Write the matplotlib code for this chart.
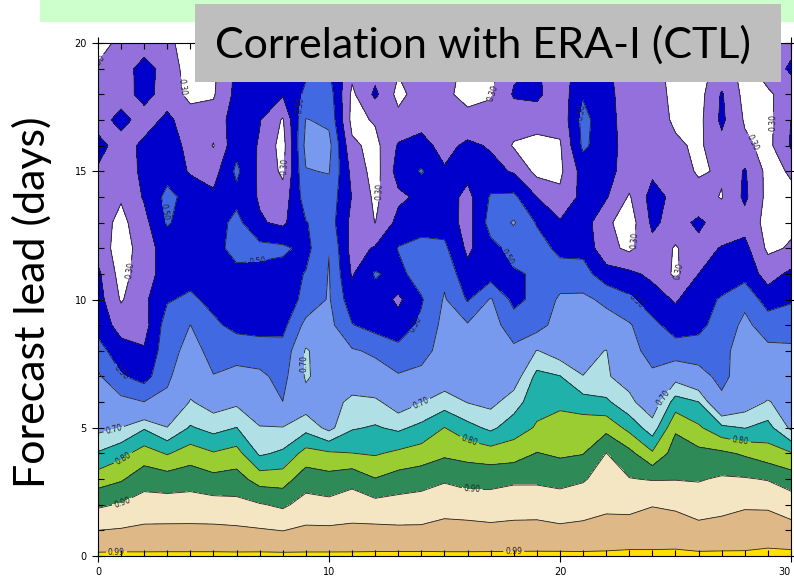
import numpy as np
import matplotlib
matplotlib.use('Agg')
import matplotlib.pyplot as plt
from matplotlib.patches import Rectangle

days = list(range(31))          # x axis
leads = list(range(21))         # forecast lead (days)

# correlation for each day (column), lead 0 .. 20
corr_by_day = [
    [0.997, 0.950, 0.892, 0.826, 0.755, 0.685, 0.655, 0.615, 0.54, 0.46, 0.44, 0.42, 0.36, 0.35, 0.35, 0.39, 0.43, 0.36, 0.34, 0.31, 0.27],
    [0.997, 0.954, 0.904, 0.844, 0.785, 0.701, 0.63, 0.51, 0.44, 0.36, 0.29, 0.26, 0.25, 0.27, 0.31, 0.35, 0.36, 0.43, 0.36, 0.35, 0.32],
    [0.996, 0.959, 0.922, 0.879, 0.823, 0.745, 0.602, 0.46, 0.41, 0.36, 0.38, 0.36, 0.35, 0.37, 0.41, 0.42, 0.42, 0.36, 0.43, 0.44, 0.35],
    [0.996, 0.960, 0.921, 0.873, 0.796, 0.702, 0.62, 0.585, 0.56, 0.55, 0.49, 0.44, 0.45, 0.51, 0.53, 0.46, 0.45, 0.42, 0.36, 0.36, 0.32],
    [0.996, 0.960, 0.922, 0.879, 0.825, 0.755, 0.705, 0.665, 0.635, 0.601, 0.52, 0.46, 0.45, 0.45, 0.46, 0.39, 0.37, 0.35, 0.27, 0.25, 0.26],
    [0.996, 0.960, 0.919, 0.865, 0.804, 0.733, 0.675, 0.603, 0.57, 0.52, 0.47, 0.47, 0.46, 0.45, 0.42, 0.36, 0.295, 0.34, 0.29, 0.28, 0.28],
    [0.996, 0.958, 0.914, 0.870, 0.819, 0.751, 0.69, 0.63, 0.56, 0.47, 0.46, 0.47, 0.54, 0.53, 0.47, 0.52, 0.47, 0.45, 0.43, 0.42, 0.41],
    [0.997, 0.954, 0.904, 0.828, 0.742, 0.703, 0.66, 0.62, 0.55, 0.46, 0.45, 0.47, 0.53, 0.41, 0.39, 0.38, 0.39, 0.405, 0.44, 0.43, 0.42],
    [0.997, 0.949, 0.891, 0.827, 0.759, 0.703, 0.601, 0.57, 0.535, 0.47, 0.44, 0.46, 0.52, 0.38, 0.34, 0.28, 0.26, 0.29, 0.41, 0.43, 0.43],
    [0.996, 0.958, 0.919, 0.877, 0.819, 0.733, 0.67, 0.71, 0.71, 0.63, 0.53, 0.505, 0.47, 0.495, 0.55, 0.595, 0.63, 0.605, 0.52, 0.48, 0.45],
    [0.996, 0.958, 0.914, 0.868, 0.808, 0.685, 0.675, 0.66, 0.645, 0.63, 0.61, 0.605, 0.598, 0.55, 0.56, 0.605, 0.63, 0.58, 0.55, 0.505, 0.46],
    [0.996, 0.959, 0.927, 0.883, 0.801, 0.745, 0.715, 0.66, 0.61, 0.505, 0.44, 0.39, 0.36, 0.37, 0.395, 0.37, 0.32, 0.27, 0.28, 0.33, 0.35],
    [0.996, 0.961, 0.916, 0.852, 0.795, 0.755, 0.712, 0.64, 0.585, 0.46, 0.46, 0.51, 0.41, 0.298, 0.28, 0.26, 0.27, 0.31, 0.42, 0.36, 0.34],
    [0.997, 0.958, 0.919, 0.871, 0.810, 0.740, 0.67, 0.61, 0.53, 0.44, 0.38, 0.47, 0.505, 0.43, 0.38, 0.44, 0.41, 0.33, 0.27, 0.31, 0.32],
    [0.997, 0.958, 0.922, 0.880, 0.822, 0.764, 0.698, 0.63, 0.56, 0.52, 0.49, 0.55, 0.53, 0.46, 0.42, 0.51, 0.43, 0.37, 0.35, 0.33, 0.33],
    [0.995, 0.965, 0.932, 0.894, 0.841, 0.801, 0.726, 0.665, 0.645, 0.63, 0.61, 0.575, 0.52, 0.46, 0.45, 0.41, 0.37, 0.36, 0.32, 0.33, 0.34],
    [0.995, 0.965, 0.927, 0.882, 0.833, 0.767, 0.698, 0.665, 0.64, 0.61, 0.49, 0.43, 0.38, 0.36, 0.37, 0.43, 0.42, 0.33, 0.27, 0.28, 0.31],
    [0.996, 0.961, 0.925, 0.883, 0.824, 0.739, 0.685, 0.68, 0.665, 0.64, 0.61, 0.45, 0.47, 0.54, 0.51, 0.43, 0.39, 0.34, 0.29, 0.27, 0.28],
    [0.996, 0.963, 0.930, 0.891, 0.827, 0.777, 0.726, 0.67, 0.62, 0.55, 0.47, 0.49, 0.53, 0.61, 0.52, 0.39, 0.29, 0.35, 0.41, 0.38, 0.35],
    [0.996, 0.964, 0.930, 0.891, 0.852, 0.805, 0.785, 0.765, 0.703, 0.56, 0.53, 0.51, 0.55, 0.49, 0.40, 0.27, 0.26, 0.35, 0.42, 0.41, 0.36],
    [0.997, 0.959, 0.924, 0.885, 0.842, 0.818, 0.791, 0.752, 0.67, 0.645, 0.615, 0.55, 0.47, 0.41, 0.32, 0.28, 0.29, 0.33, 0.34, 0.35, 0.36],
    [0.996, 0.962, 0.930, 0.895, 0.848, 0.830, 0.772, 0.701, 0.68, 0.66, 0.62, 0.54, 0.47, 0.45, 0.43, 0.44, 0.52, 0.53, 0.49, 0.45, 0.42],
    [0.996, 0.966, 0.941, 0.921, 0.901, 0.835, 0.760, 0.705, 0.702, 0.64, 0.58, 0.44, 0.33, 0.32, 0.41, 0.43, 0.44, 0.44, 0.43, 0.42, 0.40],
    [0.997, 0.969, 0.938, 0.902, 0.865, 0.785, 0.713, 0.68, 0.64, 0.61, 0.52, 0.42, 0.28, 0.25, 0.29, 0.36, 0.36, 0.35, 0.35, 0.34, 0.33],
    [0.996, 0.972, 0.948, 0.897, 0.807, 0.722, 0.665, 0.62, 0.56, 0.53, 0.44, 0.38, 0.37, 0.42, 0.44, 0.38, 0.37, 0.36, 0.35, 0.33, 0.33],
    [0.997, 0.971, 0.943, 0.898, 0.873, 0.843, 0.772, 0.68, 0.55, 0.45, 0.39, 0.28, 0.29, 0.36, 0.37, 0.34, 0.32, 0.28, 0.27, 0.27, 0.28],
    [0.996, 0.963, 0.930, 0.896, 0.864, 0.808, 0.751, 0.64, 0.55, 0.47, 0.46, 0.40, 0.37, 0.42, 0.33, 0.29, 0.28, 0.27, 0.26, 0.27, 0.28],
    [0.996, 0.966, 0.937, 0.906, 0.860, 0.763, 0.625, 0.57, 0.57, 0.55, 0.51, 0.44, 0.405, 0.35, 0.295, 0.31, 0.37, 0.42, 0.41, 0.33, 0.31],
    [0.995, 0.971, 0.945, 0.904, 0.843, 0.748, 0.67, 0.66, 0.65, 0.62, 0.58, 0.46, 0.43, 0.36, 0.42, 0.41, 0.32, 0.29, 0.27, 0.28, 0.31],
    [0.998, 0.972, 0.944, 0.897, 0.822, 0.768, 0.705, 0.65, 0.62, 0.56, 0.45, 0.36, 0.28, 0.27, 0.27, 0.27, 0.27, 0.27, 0.29, 0.33, 0.34],
    [0.998, 0.966, 0.928, 0.875, 0.805, 0.690, 0.67, 0.65, 0.62, 0.55, 0.49, 0.42, 0.31, 0.28, 0.28, 0.31, 0.41, 0.40, 0.33, 0.42, 0.36],
]

levels = [0.0, 0.3, 0.4, 0.5, 0.6, 0.7, 0.75, 0.8, 0.85, 0.9, 0.95, 0.99, 1.0]
band_colors = ['#FFFFFF', '#9370DB', '#0000CD', '#4169E1', '#7799EE', '#B0E0E6',
               '#20B2AA', '#9ACD32', '#2E8B57', '#F5E6C3', '#DEB887', '#FFE000']
label_levels = [0.3, 0.5, 0.7, 0.8, 0.9, 0.99]
plain_levels = [0.4, 0.6, 0.75, 0.85, 0.95]
label_spots = [(0.5, 18.9), (3.7, 18.3), (8.1, 15.2), (1.7, 11.1), (12.4, 14.2), (17.4, 18.0),
               (23.5, 12.3), (25.3, 11.1), (29.1, 16.9), (28.3, 16.1),
               (2.8, 13.4), (6.9, 11.4), (8.7, 17.6), (17.8, 11.7), (20.9, 17.3), (23.6, 10.2),
               (0.9, 7.1), (13.6, 9.1),
               (0.7, 4.9), (8.8, 7.5), (14.0, 5.9), (24.4, 6.2),
               (1.1, 3.8), (16.1, 4.6), (27.8, 4.4),
               (1.1, 2.0), (16.2, 2.6),
               (0.8, 0.12), (18.0, 0.15)]

fig = plt.figure(figsize=(7.94, 5.79), dpi=100)
fig.patch.set_facecolor('white')

ax = fig.add_axes([0.1234, 0.0397, 0.8728, 0.886])
Z = np.array(corr_by_day).T
ax.contourf(days, leads, Z, levels=levels, colors=band_colors)
ax.contour(days, leads, Z, levels=plain_levels, colors='#222222', linewidths=0.6)
cs_lab = ax.contour(days, leads, Z, levels=label_levels, colors='#222222', linewidths=0.6)
ax.clabel(cs_lab, fmt='%.2f', fontsize=5.5, inline=True, inline_spacing=2, manual=label_spots)

ax.set_xlim(0, 30)
ax.set_ylim(0, 20)
ax.set_xticks([0, 10, 20, 30])
ax.set_xticks(days, minor=True)
ax.set_yticks([0, 5, 10, 15, 20])
ax.set_yticks(leads, minor=True)
ax.tick_params(which='both', direction='in', top=True, right=True, labelsize=7, width=0.8)
ax.tick_params(which='major', direction='inout', length=9)
ax.tick_params(which='minor', length=4)
for s in ax.spines.values():
    s.set_linewidth(0.8)
fig.canvas.draw()
ax.xaxis.get_major_ticks()[-1].label1.set_horizontalalignment('right')

# slide decorations
fig.add_artist(Rectangle((40 / 794, 1 - 22 / 579), 754 / 794, 22 / 579,
                         transform=fig.transFigure, facecolor='#CCFFCC', edgecolor='none', zorder=5))
fig.add_artist(Rectangle((195 / 794, 1 - 82 / 579), 586 / 794, 78 / 579,
                         transform=fig.transFigure, facecolor='#BEBEBE', edgecolor='none', zorder=6))
fig.text(483 / 794, 1 - 45 / 579, 'Correlation with ERA-I (CTL)', fontsize=31, family='Lato',
         ha='center', va='center', color='black', zorder=7)
fig.text(32 / 794, 1 - 302 / 579, 'Forecast lead (days)', fontsize=31, family='Lato',
         rotation=90, ha='center', va='center', color='black', zorder=7)

fig.savefig('out.png', dpi=100)
